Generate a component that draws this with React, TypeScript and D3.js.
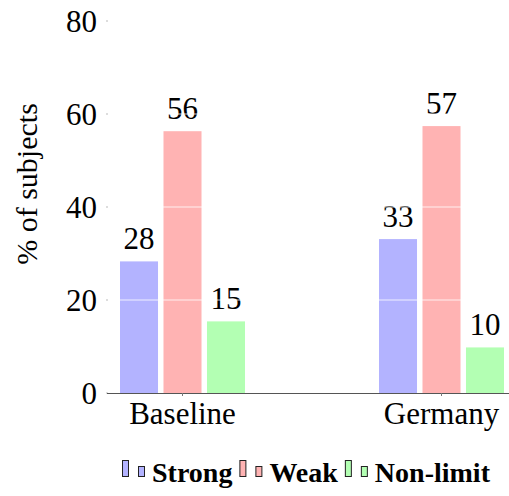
import React, { useEffect, useRef } from "react";
import * as d3 from "d3";

const categories = ["Baseline", "Germany"];
const seriesNames = ["Strong", "Weak", "Non-limit"];
const strongValues = [28.3, 33.1];
const weakValues = [56.3, 57.4];
const nonLimitValues = [15.4, 9.8];
const yTicks = [0, 20, 40, 60, 80];
const colors = ["#b3b3ff", "#ffb3b3", "#b3ffb3"];

const W = 509;
const H = 496;
const FONT = "Liberation Serif";

export default function App() {
  const ref = useRef<SVGSVGElement | null>(null);

  useEffect(() => {
    const svg = d3.select(ref.current);
    svg.selectAll("*").remove();
    const values = [strongValues, weakValues, nonLimitValues];

    const y = d3.scaleLinear().domain([0, 80]).range([393, 21]);
    const x0 = d3.scalePoint<string>().domain(categories).range([182.5, 441.5]);
    const x1 = d3
      .scaleBand<string>()
      .domain(seriesNames)
      .range([-62.5, 62.5])
      .paddingInner(0.126);

    const g = svg.append("g");

    seriesNames.forEach((s, si) => {
      categories.forEach((c, ci) => {
        const v = values[si][ci];
        g.append("rect")
          .attr("x", (x0(c) as number) + (x1(s) as number))
          .attr("y", y(v))
          .attr("width", x1.bandwidth())
          .attr("height", y(0) - y(v))
          .attr("fill", colors[si]);
        g.append("text")
          .attr("x", (x0(c) as number) + (x1(s) as number) + x1.bandwidth() / 2)
          .attr("y", y(v) - 12)
          .attr("text-anchor", "middle")
          .style("font-family", FONT)
          .style("font-size", "31px")
          .attr("fill", "#000")
          .text(String(Math.round(v)));
      });
    });

    yTicks
      .filter((t) => t > 0)
      .forEach((t) => {
        g.append("line")
          .attr("x1", 107)
          .attr("x2", W)
          .attr("y1", y(t))
          .attr("y2", y(t))
          .attr("stroke", "#fff")
          .attr("stroke-opacity", 0.8)
          .attr("stroke-width", 1);
      });

    yTicks.forEach((t) => {
      g.append("line")
        .attr("x1", 106)
        .attr("x2", 108)
        .attr("y1", y(t))
        .attr("y2", y(t))
        .attr("stroke", "#bbb")
        .attr("stroke-width", 1);
      g.append("text")
        .attr("x", 97)
        .attr("y", y(t))
        .attr("dy", "0.34em")
        .attr("text-anchor", "end")
        .style("font-family", FONT)
        .style("font-size", "31px")
        .text(String(t));
    });

    g.append("line")
      .attr("x1", 107)
      .attr("x2", W)
      .attr("y1", 393.5)
      .attr("y2", 393.5)
      .attr("stroke", "#555")
      .attr("stroke-width", 1);
    categories.forEach((c) => {
      g.append("line")
        .attr("x1", x0(c) as number)
        .attr("x2", x0(c) as number)
        .attr("y1", 393)
        .attr("y2", 396)
        .attr("stroke", "#777");
      g.append("text")
        .attr("x", x0(c) as number)
        .attr("y", 424)
        .attr("text-anchor", "middle")
        .style("font-family", FONT)
        .style("font-size", "31px")
        .text(c);
    });

    g.append("text")
      .attr("transform", "translate(37,184) rotate(-90)")
      .attr("text-anchor", "middle")
      .style("font-family", FONT)
      .style("font-size", "30px")
      .text("% of subjects");

    let cursor = 122;
    seriesNames.forEach((s, si) => {
      g.append("rect")
        .attr("x", cursor + 0.5)
        .attr("y", 460.5)
        .attr("width", 6)
        .attr("height", 16)
        .attr("fill", colors[si])
        .attr("stroke", "#222")
        .attr("stroke-width", 1);
      g.append("rect")
        .attr("x", cursor + 16.5)
        .attr("y", 466.5)
        .attr("width", 6)
        .attr("height", 10)
        .attr("fill", colors[si])
        .attr("stroke", "#222")
        .attr("stroke-width", 1);
      const t = g
        .append("text")
        .attr("x", cursor + 30)
        .attr("y", 482)
        .style("font-family", FONT)
        .style("font-weight", "bold")
        .style("font-size", "28px")
        .text(s);
      const len = (t.node() as SVGTextElement).getComputedTextLength();
      cursor = cursor + 30 + len + 7;
    });
  }, []);

  return (
    <svg
      ref={ref}
      width={W}
      height={H}
      style={{ position: "absolute", left: 0, top: 0, background: "#fff" }}
    />
  );
}
